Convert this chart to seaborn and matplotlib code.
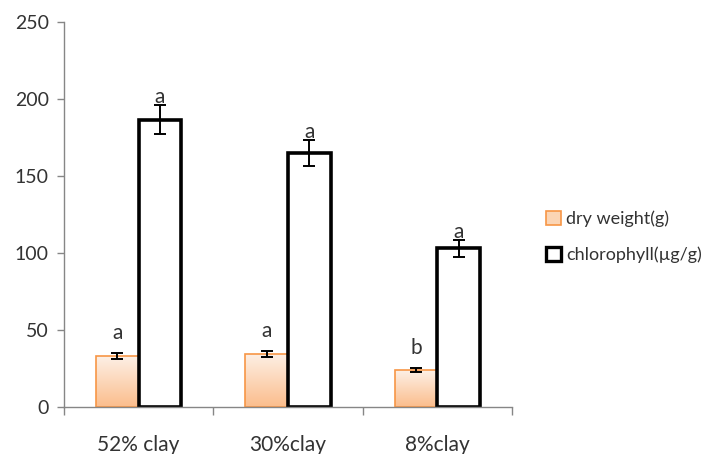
import numpy as np
import pandas as pd
import matplotlib
matplotlib.use("Agg")
import matplotlib.pyplot as plt
import seaborn as sns
from matplotlib.patches import Patch
from matplotlib.colors import LinearSegmentedColormap

categories = ["52% clay", "30%clay", "8%clay"]
series = ["dry weight(g)", "chlorophyll(\u00b5g/g)"]
dry_weight = [33, 34.5, 24]
dry_weight_err = [2.0, 1.8, 1.3]
chlorophyll = [186.5, 165, 103]
chlorophyll_err = [9.5, 8.5, 5.5]
dry_letters = ["a", "a", "b"]
chl_letters = ["a", "a", "a"]
yticks = [0, 50, 100, 150, 200, 250]

sns.set_style("white")
plt.rcParams["font.family"] = ["Lato", "DejaVu Sans"]
TXT = "#333333"

df = pd.DataFrame({
    "cat": categories * 2,
    "series": [series[0]] * 3 + [series[1]] * 3,
    "value": dry_weight + chlorophyll,
})

fig = plt.figure(figsize=(7.07, 4.54), dpi=100)
ax = fig.add_axes([64 / 707, 1 - 407 / 454, (512 - 64) / 707, (407 - 22) / 454])

sns.barplot(data=df, x="cat", y="value", hue="series", order=categories,
            hue_order=series, palette=["#fbd5b5", "white"], width=0.57,
            errorbar=None, ax=ax, legend=False, gap=0)

n = len(categories)
dry_patches = ax.patches[:n]
chl_patches = ax.patches[n:2 * n]

cmap = LinearSegmentedColormap.from_list("g", ["#fdf0e6", "#fbbd8c"])
grad = np.linspace(0, 1, 256).reshape(-1, 1)
for p in dry_patches:
    p.set_edgecolor("#f79646")
    p.set_linewidth(1.2)
    x0, w, h = p.get_x(), p.get_width(), p.get_height()
    p.set_facecolor("none")
    im = ax.imshow(grad, extent=[x0, x0 + w, 0, h], aspect="auto", cmap=cmap,
                   origin="upper", zorder=p.get_zorder() - 0.1)
    im.set_clip_path(p)
for p in chl_patches:
    p.set_edgecolor("black")
    p.set_linewidth(2.6)
    p.set_facecolor("white")
    p.set_joinstyle("miter")

for patches, vals, errs, lets, off in [(dry_patches, dry_weight, dry_weight_err, dry_letters, 6.5),
                                       (chl_patches, chlorophyll, chlorophyll_err, chl_letters, -1.5)]:
    for p, v, e, l in zip(patches, vals, errs, lets):
        xc = p.get_x() + p.get_width() / 2
        ax.errorbar(xc, v, yerr=e, fmt="none", ecolor="black", elinewidth=1.4,
                    capsize=4, capthick=1.4, zorder=5)
        ax.text(xc, v + e + off, l, ha="center", va="bottom", fontsize=15, color=TXT, zorder=6)

ax.set_xlim(-0.5, 2.5)
ax.set_ylim(0, 250)
ax.set_yticks(yticks)
ax.set_yticklabels([str(t) for t in yticks], fontsize=14)
ax.set_xticks(range(n))
ax.set_xticklabels(categories, fontsize=15)
ax.set_xticks([-0.5, 0.5, 1.5, 2.5], minor=True)
ax.tick_params(axis="x", which="major", length=0, pad=20, colors=TXT)
ax.tick_params(axis="x", which="minor", length=6, color="#868686", width=1, direction="out", bottom=True)
ax.tick_params(axis="y", length=5, width=1, direction="out", left=True, pad=6, colors=TXT)
ax.tick_params(axis="y", color="#868686")
ax.set_xlabel("")
ax.set_ylabel("")
for s in ["top", "right"]:
    ax.spines[s].set_visible(False)
for s in ["left", "bottom"]:
    ax.spines[s].set_color("#868686")
    ax.spines[s].set_linewidth(1)

handles = [Patch(facecolor="#fbd5b5", edgecolor="#f79646", linewidth=1.2, label=series[0]),
           Patch(facecolor="white", edgecolor="black", linewidth=2.4, label=series[1])]
leg = fig.legend(handles=handles, loc="center left", bbox_to_anchor=(530 / 707, 1 - 237 / 454),
                 frameon=False, fontsize=13, handlelength=0.8, handleheight=0.8,
                 handletextpad=0.3, labelspacing=1.1)
for t in leg.get_texts():
    t.set_color(TXT)

fig.savefig("out.png", dpi=100)
